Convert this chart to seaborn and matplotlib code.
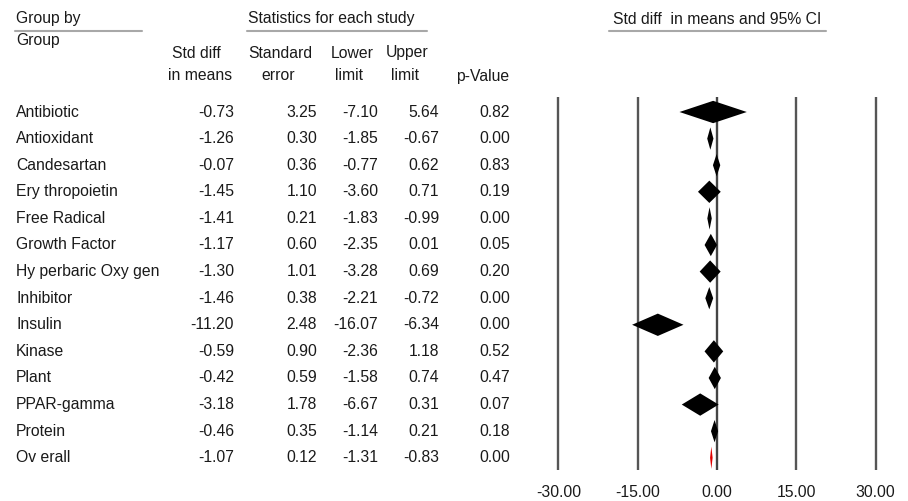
import matplotlib
matplotlib.use("Agg")
import matplotlib.pyplot as plt
from matplotlib.lines import Line2D
from matplotlib.transforms import blended_transform_factory
import seaborn as sns

# Subgroup results (standardised mean difference)
groups = ["Antibiotic", "Antioxidant", "Candesartan", "Erythropoietin", "Free Radical",
          "Growth Factor", "Hyperbaric Oxygen", "Inhibitor", "Insulin", "Kinase",
          "Plant", "PPAR-gamma", "Protein", "Overall"]
label_text = ["Antibiotic", "Antioxidant", "Candesartan", "Ery thropoietin", "Free Radical",
              "Growth Factor", "Hy perbaric Oxy gen", "Inhibitor", "Insulin", "Kinase",
              "Plant", "PPAR-gamma", "Protein", "Ov erall"]
std_diff = [-0.73, -1.26, -0.07, -1.45, -1.41, -1.17, -1.30, -1.46, -11.20, -0.59, -0.42, -3.18, -0.46, -1.07]
std_err = [3.25, 0.30, 0.36, 1.10, 0.21, 0.60, 1.01, 0.38, 2.48, 0.90, 0.59, 1.78, 0.35, 0.12]
lower = [-7.10, -1.85, -0.77, -3.60, -1.83, -2.35, -3.28, -2.21, -16.07, -2.36, -1.58, -6.67, -1.14, -1.31]
upper = [5.64, -0.67, 0.62, 0.71, -0.99, 0.01, 0.69, -0.72, -6.34, 1.18, 0.74, 0.31, 0.21, -0.83]
p_values = [0.82, 0.00, 0.83, 0.19, 0.00, 0.05, 0.20, 0.00, 0.00, 0.52, 0.47, 0.07, 0.18, 0.00]
axis_ticks = [-30.0, -15.0, 0.0, 15.0, 30.0]

sns.set_theme(style="white")
plt.rcParams["font.family"] = ["Liberation Sans", "DejaVu Sans"]

W, H = 908, 501
fig = plt.figure(figsize=(W / 100, H / 100), dpi=100)
fig.patch.set_facecolor("white")

# forest panel
left_px, right_px, top_px, bot_px = 540, 895, 97, 470
ax = fig.add_axes([left_px / W, 1 - bot_px / H, (right_px - left_px) / W, (bot_px - top_px) / H])
ax.set_facecolor("white")
ax.set_xlim(-33.50, 33.69)
ax.set_ylim(13.46, -0.564)
for s in ax.spines.values():
    s.set_visible(False)

for t in axis_ticks:
    ax.axvline(t, color="#555555" if t != 0 else "#444444", lw=1.7, zorder=1)

half_h = 0.42
text_color = "#1a1a1a"
for i, g in enumerate(groups):
    is_total = g == "Overall"
    xs = [lower[i], std_diff[i], upper[i], std_diff[i]]
    ys = [i, i - half_h, i, i + half_h]
    ax.fill(xs, ys, color="#e00000" if is_total else "black", lw=0, zorder=3)

ax.set_xticks(axis_ticks)
ax.set_xticklabels([f"{t:.2f}" for t in axis_ticks], fontsize=11.3, color=text_color)
ax.tick_params(axis="x", length=0, pad=11)
ax.set_yticks([])

# table columns
tr = blended_transform_factory(fig.transFigure, ax.transData)
fs = 11.3
cols = [(std_diff, 234), (std_err, 317), (lower, 378), (upper, 439), (p_values, 510)]
for i, name in enumerate(label_text):
    fig.text(16 / W, i, name, transform=tr, ha="left", va="center", fontsize=fs, color=text_color)
    for vals, xr in cols:
        fig.text(xr / W, i, f"{vals[i]:.2f}", transform=tr, ha="right", va="center",
                 fontsize=fs, color=text_color)

def ftext(x, y, s, ha="left"):
    fig.text(x / W, 1 - y / H, s, ha=ha, va="center", fontsize=fs, color=text_color)

ftext(16, 19, "Group by")
ftext(16, 41, "Group")
ftext(248, 19, "Statistics for each study")
ftext(717, 19, "Std diff  in means and 95% CI", ha="center")
ftext(196, 53, "Std diff", ha="center")
ftext(200, 76, "in means", ha="center")
ftext(280, 53, "Standard", ha="center")
ftext(278, 76, "error", ha="center")
ftext(352, 53, "Lower", ha="center")
ftext(349, 76, "limit", ha="center")
ftext(407, 53, "Upper", ha="center")
ftext(405, 76, "limit", ha="center")
ftext(483, 76, "p-Value", ha="center")

for x0, x1 in [(15, 142), (247, 427), (609, 826)]:
    fig.add_artist(Line2D([x0 / W, x1 / W], [1 - 30.5 / H, 1 - 30.5 / H],
                          transform=fig.transFigure, color="#a8a8a8", lw=1.5))

fig.savefig("out.png", dpi=100, facecolor="white")
